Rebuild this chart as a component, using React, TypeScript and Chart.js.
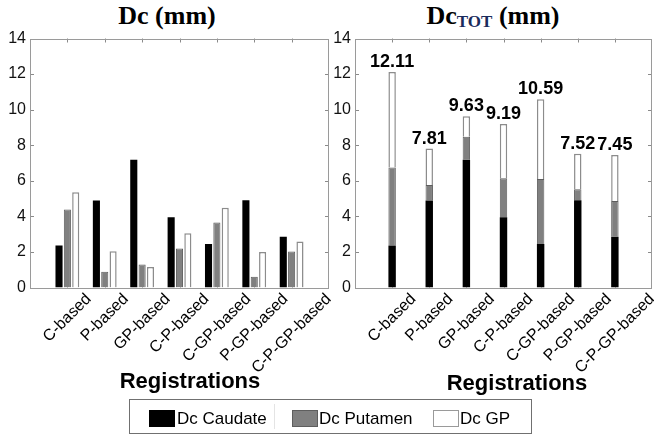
import React, { useEffect, useRef } from 'react';
import { Chart, registerables } from 'chart.js';

Chart.register(...registerables);

// ---------- data ----------
const categories = ['C-based', 'P-based', 'GP-based', 'C-P-based', 'C-GP-based', 'P-GP-based', 'C-P-GP-based'];
const caudate = [2.36, 4.89, 7.18, 3.95, 2.45, 4.91, 2.85];
const putamen = [4.39, 0.88, 1.30, 2.19, 3.65, 0.61, 2.02];
const gp = [5.36, 2.04, 1.15, 3.05, 4.49, 2.00, 2.58];
const seriesNames = ['Dc Caudate', 'Dc Putamen', 'Dc GP'];
const yMin = 0;
const yMax = 14;
const yStep = 2;
const xAxisTitle = 'Registrations';

const SANS = '"Liberation Sans", Arial, Helvetica, sans-serif';
const SERIF = '"Liberation Serif", "Times New Roman", serif';

const colors = {
  caudate: { bg: '#000000', border: '#000000', w: 0 },
  putamen: { bg: '#808080', border: '#5e5e5e', w: 1 },
  gp: { bg: '#ffffff', border: '#8c8c8c', w: 1.5 },
};

const toPoints = (arr: number[]) => arr.map((v, i) => ({ x: i + 1, y: v }));

const makeDatasets = () => [
  { label: seriesNames[0], data: toPoints(caudate), backgroundColor: colors.caudate.bg, borderColor: colors.caudate.border, borderWidth: colors.caudate.w },
  { label: seriesNames[1], data: toPoints(putamen), backgroundColor: colors.putamen.bg, borderColor: colors.putamen.border, borderWidth: colors.putamen.w },
  { label: seriesNames[2], data: toPoints(gp), backgroundColor: colors.gp.bg, borderColor: colors.gp.border, borderWidth: colors.gp.w },
];

// MATLAB-like box with inward ticks
const ticksPlugin = {
  id: 'matlabTicks',
  beforeDatasetsDraw(chart: any) {
    const { ctx, chartArea: a, scales } = chart;
    const len = 4;
    ctx.save();
    ctx.strokeStyle = '#8a8a8a';
    ctx.lineWidth = 1;
    ctx.beginPath();
    scales.y.ticks.forEach((t: any) => {
      const y = Math.round(scales.y.getPixelForValue(t.value)) + 0.5;
      ctx.moveTo(a.left, y);
      ctx.lineTo(a.left + len, y);
      ctx.moveTo(a.right, y);
      ctx.lineTo(a.right - len, y);
    });
    categories.forEach((_, i) => {
      const x = Math.round(scales.x.getPixelForValue(i + 1)) + 0.5;
      ctx.moveTo(x, a.top);
      ctx.lineTo(x, a.top + len);
      ctx.moveTo(x, a.bottom);
      ctx.lineTo(x, a.bottom - len);
    });
    ctx.stroke();
    ctx.restore();
  },
  afterDatasetsDraw(chart: any) {
    const { ctx, chartArea: a } = chart;
    ctx.save();
    ctx.strokeStyle = '#9a9a9a';
    ctx.lineWidth = 1;
    ctx.strokeRect(Math.round(a.left) + 0.5, Math.round(a.top) + 0.5, Math.round(a.right - a.left) - 1, Math.round(a.bottom - a.top));
    ctx.restore();
  },
};

// rotated category labels, centred on the tick
const xLabelsPlugin = {
  id: 'rotatedXLabels',
  afterDraw(chart: any) {
    const { ctx, chartArea: a, scales } = chart;
    const th = (45 * Math.PI) / 180;
    ctx.save();
    ctx.font = `16px ${SANS}`;
    ctx.fillStyle = '#000';
    ctx.textAlign = 'center';
    ctx.textBaseline = 'middle';
    categories.forEach((lab, i) => {
      const px = scales.x.getPixelForValue(i + 1);
      const L = ctx.measureText(lab).width;
      const cy = a.bottom + 9 + (L / 2) * Math.sin(th);
      ctx.save();
      ctx.translate(px, cy);
      ctx.rotate(-th);
      ctx.fillText(lab, 0, 0);
      ctx.restore();
    });
    ctx.restore();
  },
};

// totals above stacked bars
const totalsPlugin = {
  id: 'totals',
  afterDatasetsDraw(chart: any) {
    const { ctx, scales } = chart;
    ctx.save();
    ctx.font = `bold 18px ${SANS}`;
    ctx.fillStyle = '#000';
    ctx.textAlign = 'center';
    ctx.textBaseline = 'alphabetic';
    categories.forEach((_, i) => {
      const total = caudate[i] + putamen[i] + gp[i];
      const x = scales.x.getPixelForValue(i + 1);
      const y = scales.y.getPixelForValue(total) - 5;
      ctx.fillText(total.toFixed(2), x, y);
    });
    ctx.restore();
  },
};

const CANVAS_H = 380;
const PLOT_TOP = 38.5;
const PLOT_BOTTOM = 287.5;

function makeConfig(stacked: boolean, rightPad: number): any {
  return {
    type: 'bar',
    data: { datasets: makeDatasets() },
    options: {
      responsive: false,
      animation: false,
      layout: { padding: { left: 0, top: PLOT_TOP, right: rightPad, bottom: CANVAS_H - PLOT_BOTTOM } },
      plugins: { legend: { display: false }, tooltip: { enabled: false }, title: { display: false } },
      datasets: {
        bar: stacked
          ? { categoryPercentage: 0.2, barPercentage: 1 }
          : { categoryPercentage: 0.67, barPercentage: 0.85 },
      },
      scales: {
        x: { type: 'linear', min: 0, max: categories.length + 1, offset: false, display: false, stacked },
        y: {
          stacked,
          min: yMin,
          max: yMax,
          ticks: { stepSize: yStep, font: { family: SANS, size: 16 }, color: '#111', padding: 4 },
          grid: { display: false, drawTicks: false },
          border: { display: false },
          afterFit: (s: any) => {
            s.width = 30;
          },
        },
      },
    },
    plugins: stacked ? [ticksPlugin, xLabelsPlugin, totalsPlugin] : [ticksPlugin, xLabelsPlugin],
  };
}

function BarCanvas({ stacked, left, width, rightPad }: { stacked: boolean; left: number; width: number; rightPad: number }) {
  const ref = useRef<HTMLCanvasElement | null>(null);
  useEffect(() => {
    if (!ref.current) return;
    const chart = new Chart(ref.current, makeConfig(stacked, rightPad));
    return () => chart.destroy();
  }, [stacked, width, rightPad]);
  return (
    <canvas
      ref={ref}
      width={width}
      height={CANVAS_H}
      style={{ position: 'absolute', left, top: 0, width, height: CANVAS_H }}
    />
  );
}

export default function App() {
  const legendItems = [
    { name: seriesNames[0], sq: 149, tx: 177, bg: colors.caudate.bg, border: '1px solid #000' },
    { name: seriesNames[1], sq: 292, tx: 319, bg: colors.putamen.bg, border: '1px solid #5e5e5e' },
    { name: seriesNames[2], sq: 433, tx: 460, bg: colors.gp.bg, border: '1.5px solid #9a9a9a' },
  ];
  return (
    <div
      style={{
        position: 'fixed',
        left: 0,
        top: 0,
        width: 654,
        height: 441,
        background: '#fff',
        overflow: 'hidden',
        fontFamily: SANS,
        color: '#000',
      }}
    >
      {/* titles */}
      <div
        style={{
          position: 'absolute',
          left: 67,
          top: 3,
          width: 200,
          textAlign: 'center',
          font: `bold 26px ${SERIF}`,
          lineHeight: '26px',
          whiteSpace: 'nowrap',
        }}
      >
        Dc (mm)
      </div>
      <div
        style={{
          position: 'absolute',
          left: 393,
          top: 3,
          width: 200,
          textAlign: 'center',
          font: `bold 26px ${SERIF}`,
          lineHeight: '26px',
          whiteSpace: 'nowrap',
        }}
      >
        Dc
        <span style={{ fontSize: 17, color: '#1a2b5c', position: 'relative', top: 3 }}>TOT</span> (mm)
      </div>

      <BarCanvas stacked={false} left={0} width={340} rightPad={11} />
      <BarCanvas stacked={true} left={325} width={329} rightPad={2} />

      {/* axis titles */}
      <div
        style={{
          position: 'absolute',
          left: 90,
          top: 369.5,
          width: 200,
          textAlign: 'center',
          font: `bold 22px ${SANS}`,
          lineHeight: '22px',
        }}
      >
        {xAxisTitle}
      </div>
      <div
        style={{
          position: 'absolute',
          left: 417,
          top: 371.5,
          width: 200,
          textAlign: 'center',
          font: `bold 22px ${SANS}`,
          lineHeight: '22px',
        }}
      >
        {xAxisTitle}
      </div>

      {/* legend */}
      <div
        style={{
          position: 'absolute',
          left: 129,
          top: 399,
          width: 403,
          height: 35,
          boxSizing: 'border-box',
          border: '1.5px solid #707070',
          background: '#fff',
        }}
      />
      <div style={{ position: 'absolute', left: 274, top: 404, width: 1, height: 25, background: '#e4e4e4' }} />
      {legendItems.map((it) => (
        <React.Fragment key={it.name}>
          <div
            style={{
              position: 'absolute',
              left: it.sq,
              top: 410,
              width: 26,
              height: 17,
              boxSizing: 'border-box',
              background: it.bg,
              border: it.border,
            }}
          />
          <div
            style={{
              position: 'absolute',
              left: it.tx,
              top: 410,
              font: `17px ${SANS}`,
              lineHeight: '17px',
              whiteSpace: 'nowrap',
            }}
          >
            {it.name}
          </div>
        </React.Fragment>
      ))}
    </div>
  );
}
